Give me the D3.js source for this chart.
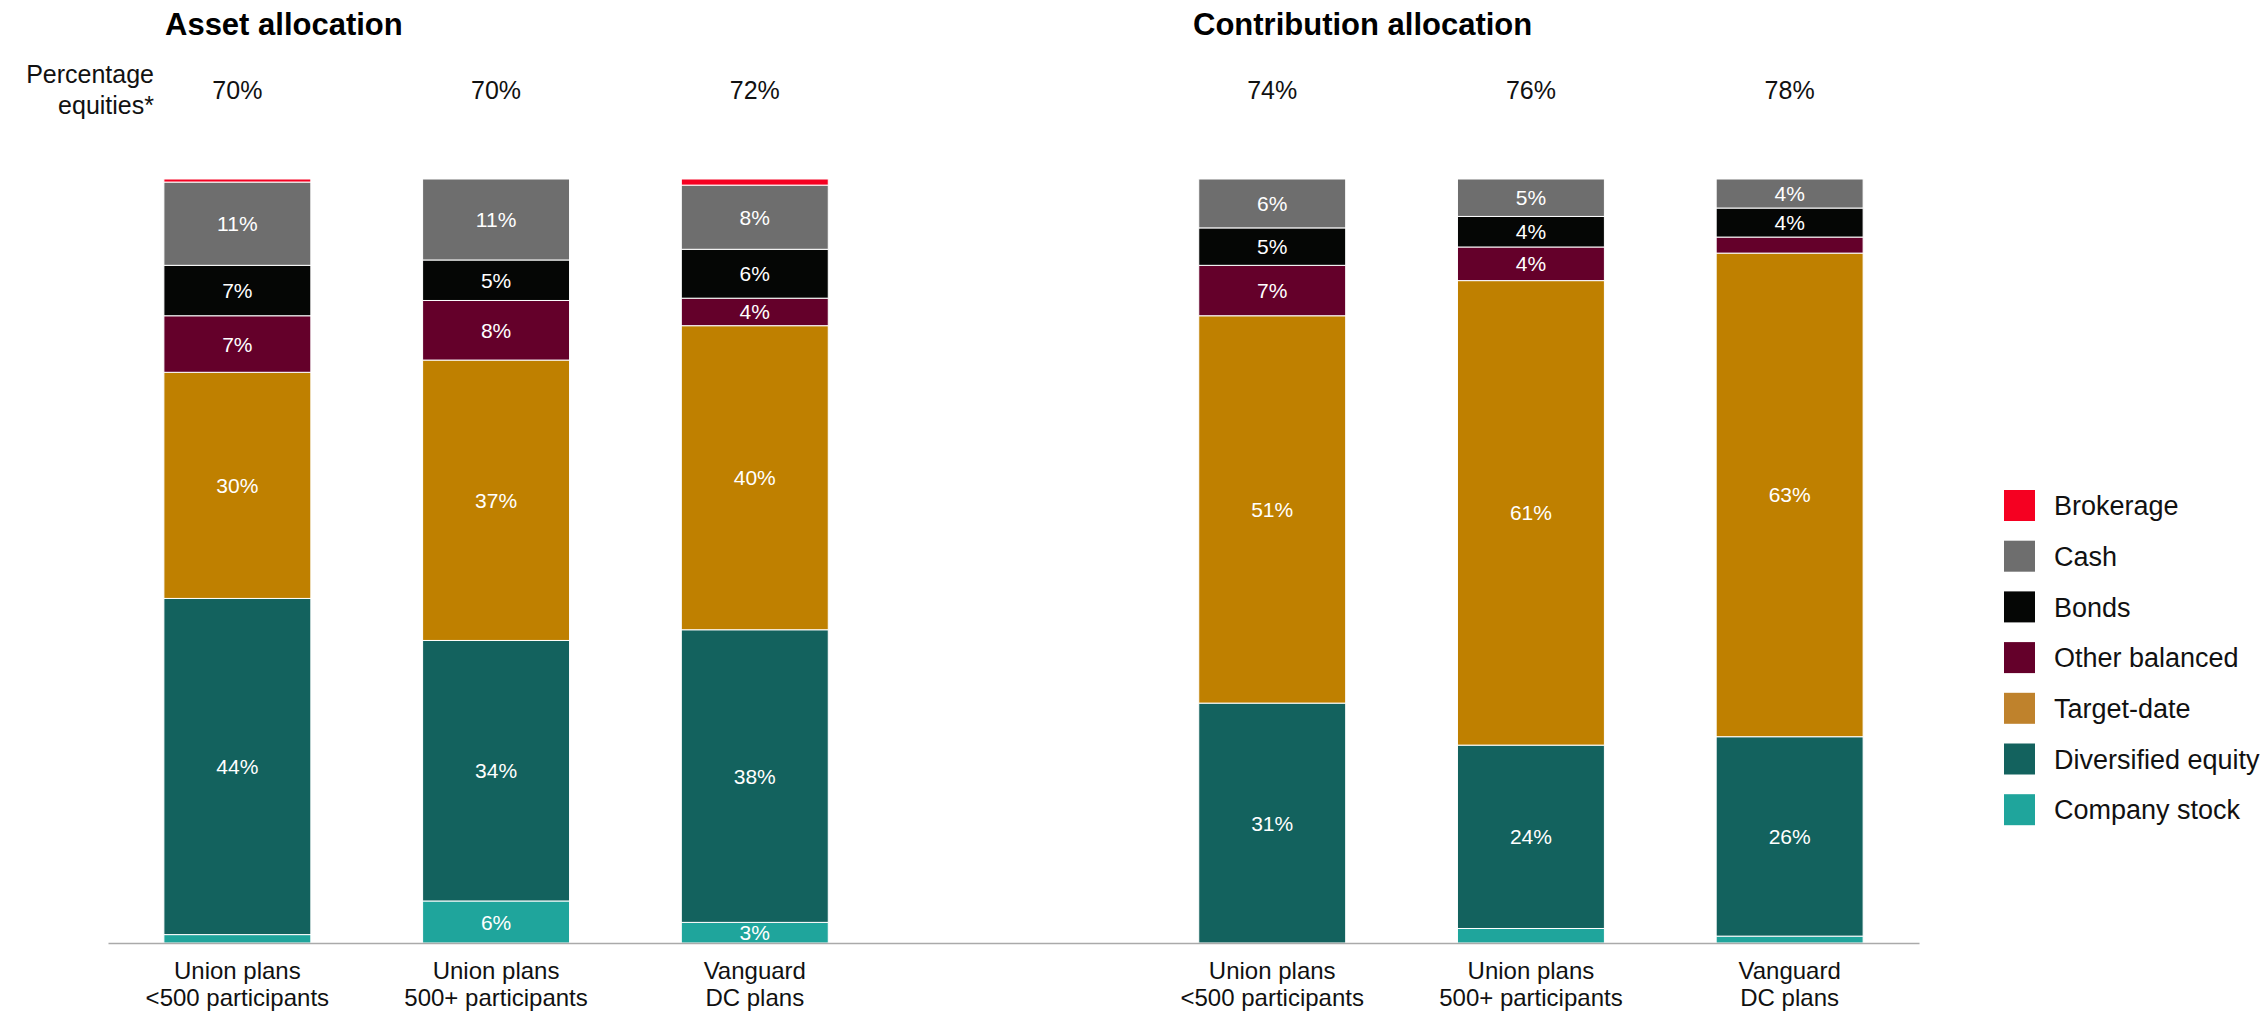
<!DOCTYPE html>
<html>
<head>
<meta charset="utf-8">
<script src="https://cdn.jsdelivr.net/npm/d3@7"></script>
<style>
  html, body { margin: 0; padding: 0; background: #fff; }
  svg { display: block; font-family: "Liberation Sans", Arial, sans-serif; }
</style>
</head>
<body>
<svg id="chart" width="2268" height="1014"></svg>
<script>
// ---- Data ----
const panels = ["Asset allocation", "Contribution allocation"];
const categories = [
  "Union plans\n<500 participants",
  "Union plans\n500+ participants",
  "Vanguard\nDC plans"
];
const barIds = ["a0", "a1", "a2", "c0", "c1", "c2"];
const equityPct = ["70%", "70%", "72%", "74%", "76%", "78%"];
const seriesNames = ["Company stock", "Diversified equity", "Target-date", "Other balanced", "Bonds", "Cash", "Brokerage"];
const companyStock      = [1.1, 5.5, 2.7, 0.0, 1.9, 0.9];
const diversifiedEquity = [44.0, 34.1, 38.3, 31.4, 24.0, 26.1];
const targetDate        = [29.6, 36.7, 39.8, 50.7, 60.8, 63.3];
const otherBalanced     = [7.4, 7.8, 3.6, 6.6, 4.4, 2.1];
const bonds             = [6.6, 5.3, 6.4, 4.9, 4.0, 3.8];
const cash              = [10.9, 10.6, 8.4, 6.4, 4.9, 3.8];
const brokerage         = [0.4, 0.0, 0.8, 0.0, 0.0, 0.0];
const seriesValues = [companyStock, diversifiedEquity, targetDate, otherBalanced, bonds, cash, brokerage];
const barColors    = ["#1fa59c", "#13625e", "#bf8000", "#64002a", "#050605", "#6e6e6e", "#f50021"];
const legendColors = ["#1fa59c", "#13625e", "#bf822c", "#64002a", "#050605", "#6e6e6e", "#f50021"];
const legendOrder  = ["Brokerage", "Cash", "Bonds", "Other balanced", "Target-date", "Diversified equity", "Company stock"];

// ---- Build table ----
const rows = barIds.map((id, i) => {
  const r = { id: id, equity: equityPct[i], label: categories[i % 3] };
  seriesNames.forEach((s, k) => { r[s] = seriesValues[k][i]; });
  return r;
});

const svg = d3.select("#chart");

// ---- Scales ----
const slots = ["a0", "a1", "a2", "gap", "c0", "c1", "c2"];
const x = d3.scaleBand().domain(slots).range([108, 1919]).paddingInner(0.432).paddingOuter(0.216);
const y = d3.scaleLinear().domain([0, 100]).range([943, 179]);
const color = d3.scaleOrdinal().domain(seriesNames).range(barColors);
const legendColor = d3.scaleOrdinal().domain(seriesNames).range(legendColors);

const stacked = d3.stack().keys(seriesNames)(rows);

// ---- Bars ----
const layer = svg.append("g").selectAll("g.series")
  .data(stacked).join("g").attr("class", "series")
  .attr("fill", d => color(d.key));

layer.selectAll("rect")
  .data(d => d.filter(p => p[1] - p[0] > 0).map(p => ({ p: p, key: d.key })))
  .join("rect")
  .attr("x", d => x(d.p.data.id))
  .attr("width", x.bandwidth())
  .attr("y", d => y(d.p[1]))
  .attr("height", d => y(d.p[0]) - y(d.p[1]))
  .attr("stroke", "#ffffff")
  .attr("stroke-width", 1);

// ---- Value labels ----
layer.selectAll("text")
  .data(d => d.filter(p => p.data[d.key] >= 2.5).map(p => ({ p: p, key: d.key })))
  .join("text")
  .attr("x", d => x(d.p.data.id) + x.bandwidth() / 2)
  .attr("y", d => (y(d.p[0]) + y(d.p[1])) / 2)
  .attr("dy", "0.36em")
  .attr("text-anchor", "middle")
  .attr("fill", "#ffffff")
  .style("font-size", "21px")
  .text(d => Math.round(d.p.data[d.key]) + "%");

// ---- Baseline axis ----
const axisG = svg.append("g").attr("transform", `translate(0,${y(0)})`)
  .call(d3.axisBottom(x).tickSize(0).tickFormat(""));
axisG.select(".domain").attr("stroke", "#aaaaaa").attr("stroke-width", 1.5);

// ---- Category labels ----
const catG = svg.append("g");
rows.forEach(r => {
  const cx = x(r.id) + x.bandwidth() / 2;
  const t = catG.append("text")
    .attr("x", cx)
    .attr("y", 979)
    .attr("text-anchor", "middle")
    .attr("fill", "#111")
    .style("font-size", "24px");
  r.label.split("\n").forEach((line, i) => {
    t.append("tspan").attr("x", cx).attr("dy", i === 0 ? 0 : 27).text(line);
  });
});

// ---- Equity percentages ----
svg.append("g").selectAll("text").data(rows).join("text")
  .attr("x", d => x(d.id) + x.bandwidth() / 2)
  .attr("y", 99)
  .attr("text-anchor", "middle")
  .attr("fill", "#111")
  .style("font-size", "25px")
  .text(d => d.equity);

const pe = svg.append("text").attr("text-anchor", "end").attr("fill", "#111").style("font-size", "25px");
pe.append("tspan").attr("x", 154).attr("y", 83).text("Percentage");
pe.append("tspan").attr("x", 154).attr("y", 114).text("equities*");

// ---- Panel titles ----
const titleX = [165, 1193];
svg.append("g").selectAll("text").data(panels).join("text")
  .attr("x", (d, i) => titleX[i])
  .attr("y", 35)
  .attr("fill", "#000")
  .style("font-size", "31px")
  .style("font-weight", "bold")
  .text(d => d);

// ---- Legend ----
const lg = svg.append("g").attr("transform", "translate(2004,490)");
const li = lg.selectAll("g").data(legendOrder).join("g")
  .attr("transform", (d, i) => `translate(0,${i * 50.7})`);
li.append("rect").attr("width", 31).attr("height", 31).attr("fill", d => legendColor(d));
li.append("text").attr("x", 50).attr("y", 15.5).attr("dy", "0.36em")
  .attr("fill", "#111").style("font-size", "27px").text(d => d);
</script>
</body>
</html>
